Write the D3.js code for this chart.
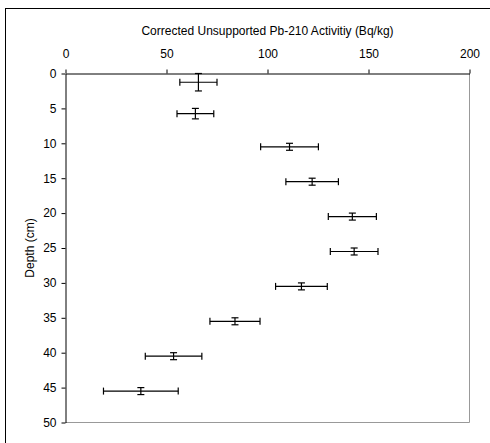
<!DOCTYPE html>
<html>
<head>
<meta charset="utf-8">
<script src="https://cdn.jsdelivr.net/npm/d3@7"></script>
<style>
  html, body { margin: 0; padding: 0; background: #fff; }
  svg { display: block; }
  text { font-family: Arial, "Liberation Sans", sans-serif; fill: #000; }
</style>
</head>
<body>
<svg id="chart" width="490" height="443"></svg>
<script>
// Pb-210 activity profile: one error-bar marker per sampled slice
const depth = [1.25, 5.75, 10.5, 15.5, 20.5, 25.5, 30.5, 35.5, 40.5, 45.5];
const depthErr = [1.25, 0.75, 0.5, 0.5, 0.5, 0.5, 0.5, 0.5, 0.5, 0.5];
const activity = [65.8, 64.3, 110.9, 122.1, 142.0, 142.9, 116.8, 83.9, 53.5, 37.3];
const activityErr = [9.2, 9.1, 14.3, 13.0, 11.9, 11.8, 12.8, 12.4, 14.0, 18.5];
const xTicks = [0, 50, 100, 150, 200];
const yTicks = [0, 5, 10, 15, 20, 25, 30, 35, 40, 45, 50];
const xTitle = "Corrected Unsupported Pb-210 Activitiy (Bq/kg)";
const yTitle = "Depth (cm)";

const svg = d3.select("#chart");

// outer frame
svg.append("rect")
  .attr("x", 5.5).attr("y", 8.5)
  .attr("width", 500).attr("height", 460)
  .attr("fill", "none").attr("stroke", "#000").attr("stroke-width", 1);

const x = d3.scaleLinear().domain([0, 200]).range([65.5, 469.5]);
const y = d3.scaleLinear().domain([0, 50]).range([73.5, 422.5]);

// plot area border (right and bottom edges in grey)
svg.append("line")
  .attr("x1", x(200)).attr("x2", x(200)).attr("y1", y(0)).attr("y2", y(50))
  .attr("stroke", "#999");
svg.append("line")
  .attr("x1", x(0)).attr("x2", x(200)).attr("y1", y(50)).attr("y2", y(50))
  .attr("stroke", "#999");

// top value axis
const gx = svg.append("g")
  .attr("transform", `translate(0,${y(0)})`)
  .call(d3.axisTop(x).tickValues(xTicks).tickSize(4).tickPadding(12).tickSizeOuter(0));
gx.select(".domain").attr("stroke", "#000");
gx.selectAll("text").attr("font-size", 12).attr("font-family", "Arial, 'Liberation Sans', sans-serif");

// left depth axis
const gy = svg.append("g")
  .attr("transform", `translate(${x(0)},0)`)
  .call(d3.axisLeft(y).tickValues(yTicks).tickSize(4).tickPadding(5).tickSizeOuter(0));
gy.selectAll("text").attr("font-size", 12).attr("font-family", "Arial, 'Liberation Sans', sans-serif");

// axis titles
svg.append("text")
  .attr("x", (x(0) + x(200)) / 2).attr("y", 35)
  .attr("text-anchor", "middle").attr("font-size", 12)
  .text(xTitle);
svg.append("text")
  .attr("transform", `translate(34,${(y(0) + y(50)) / 2}) rotate(-90)`)
  .attr("text-anchor", "middle").attr("font-size", 12)
  .text(yTitle);

// error bars
const pts = depth.map((d, i) => ({ d, de: depthErr[i], a: activity[i], ae: activityErr[i] }));
const g = svg.append("g").attr("stroke", "#000").attr("stroke-width", 1.2).attr("fill", "none");
const cap = 3.5;
pts.forEach(p => {
  const cx = x(p.a), cy = y(p.d);
  const x0 = x(p.a - p.ae), x1 = x(p.a + p.ae);
  const y0 = y(p.d - p.de), y1 = y(p.d + p.de);
  g.append("line").attr("x1", x0).attr("x2", x1).attr("y1", cy).attr("y2", cy);
  g.append("line").attr("x1", x0).attr("x2", x0).attr("y1", cy - cap).attr("y2", cy + cap);
  g.append("line").attr("x1", x1).attr("x2", x1).attr("y1", cy - cap).attr("y2", cy + cap);
  g.append("line").attr("x1", cx).attr("x2", cx).attr("y1", y0).attr("y2", y1);
  g.append("line").attr("x1", cx - cap).attr("x2", cx + cap).attr("y1", y0).attr("y2", y0);
  g.append("line").attr("x1", cx - cap).attr("x2", cx + cap).attr("y1", y1).attr("y2", y1);
});
</script>
</body>
</html>
